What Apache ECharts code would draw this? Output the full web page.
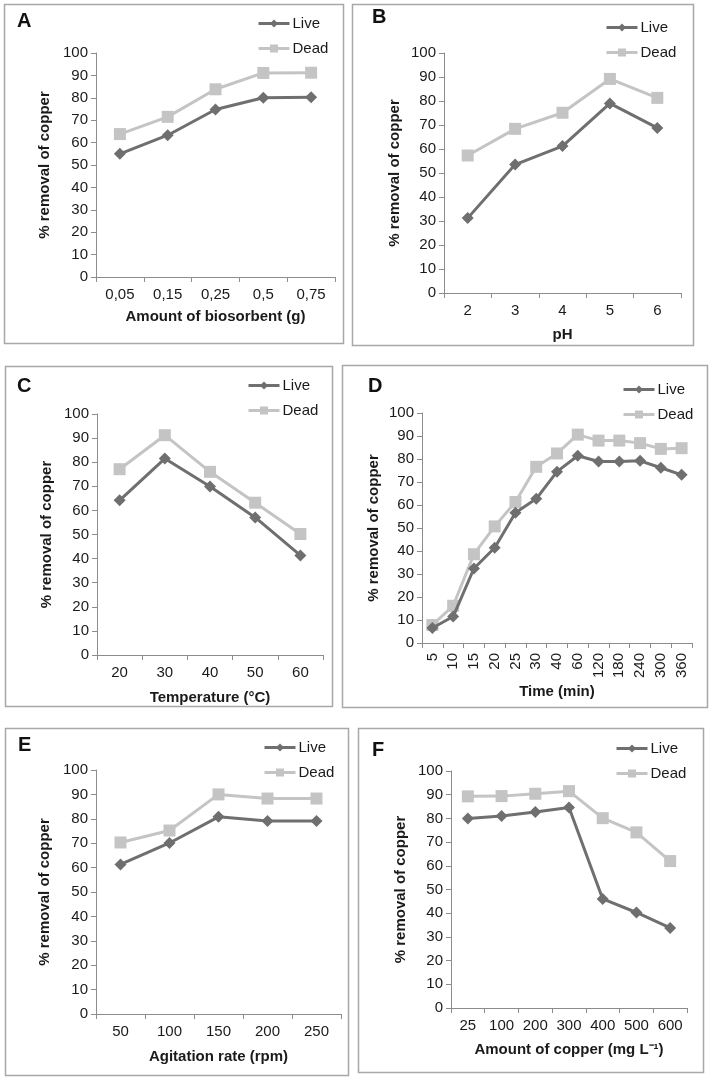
<!DOCTYPE html>
<html>
<head>
<meta charset="utf-8">
<script src="https://cdn.jsdelivr.net/npm/echarts@6/dist/echarts.min.js"></script>
<style>
html,body{margin:0;padding:0;background:#fff;}
#chart{width:712px;height:1078px;}
</style>
</head>
<body>
<div id="chart"></div>
<script>
// ---- data ----
const catsA = ['0,05','0,15','0,25','0,5','0,75'];
const liveA = [55, 63.3, 74.8, 80, 80.2];
const deadA = [63.8, 71.5, 83.8, 91.1, 91.2];

const catsB = ['2','3','4','5','6'];
const liveB = [31.2, 53.5, 61.2, 79, 68.8];
const deadB = [57.3, 68.4, 75.1, 89.2, 81.3];

const catsC = ['20','30','40','50','60'];
const liveC = [64.2, 81.5, 69.9, 57.1, 41.3];
const deadC = [77.1, 91.2, 76, 63.2, 50.2];

const catsD = ['5','10','15','20','25','30','40','60','120','180','240','300','360'];
const liveD = [6.5, 11.5, 32.4, 41.4, 56.6, 62.7, 74.5, 81.4, 78.9, 78.9, 79.2, 76.2, 73.1];
const deadD = [7.8, 16.2, 38.6, 50.7, 61.3, 76.6, 82.4, 90.6, 88, 88, 86.9, 84.4, 84.7];

const catsE = ['50','100','150','200','250'];
const liveE = [61.3, 70.1, 80.8, 79.1, 79.1];
const deadE = [70.3, 75.2, 90, 88.3, 88.3];

const catsF = ['25','100','200','300','400','500','600'];
const liveF = [80, 81, 82.7, 84.6, 46, 40.3, 33.8];
const deadF = [89.3, 89.4, 90.4, 91.5, 80.1, 74.1, 62];

const yTitle = '% removal of copper';
const xTitles = ['Amount of biosorbent (g)','pH','Temperature (°C)','Time (min)','Agitation rate (rpm)','Amount of copper (mg L\u207B\u00B9)'];
const letters = ['A','B','C','D','E','F'];

// ---- layout ----
const panels = [
  {cats:catsA, live:liveA, dead:deadA, grid:{left:96, top:53, width:239, height:224}, box:[4,4,339,339], letter:[17,11], legend:[257,16], yGap:44, xGap:32},
  {cats:catsB, live:liveB, dead:deadB, grid:{left:444, top:53, width:237, height:240}, box:[352,4,341,341], letter:[372,7], legend:[605,20], yGap:42, xGap:34},
  {cats:catsC, live:liveC, dead:deadC, grid:{left:97, top:414, width:226, height:241}, box:[5,366,327,340], letter:[17,376], legend:[247,378], yGap:43, xGap:35},
  {cats:catsD, live:liveD, dead:deadD, grid:{left:422, top:413, width:270, height:230}, box:[342,365,365,342], letter:[368,376], legend:[622,382], yGap:41, xGap:41, rot:90},
  {cats:catsE, live:liveE, dead:deadE, grid:{left:96, top:770, width:245, height:244}, box:[5,728,343,347], letter:[18,735], legend:[263,740], yGap:44, xGap:35},
  {cats:catsF, live:liveF, dead:deadF, grid:{left:451, top:771, width:236, height:237}, box:[358,728,345,344], letter:[372,740], legend:[615,741], yGap:43, xGap:34}
];

const LIVE = '#6f6f6f', DEAD = '#c4c4c4', AX = '#8c8c8c', TXT = '#1a1a1a';
const FONT = '"Liberation Sans", Arial, sans-serif';

const grids = [], xAxes = [], yAxes = [], series = [], legends = [], graphics = [];
panels.forEach((p, i) => {
  grids.push(Object.assign({containLabel:false}, p.grid));
  xAxes.push({
    type:'category', gridIndex:i, data:p.cats, boundaryGap:true,
    name:xTitles[i], nameLocation:'middle', nameGap:p.xGap,
    nameTextStyle:{fontFamily:FONT, fontWeight:'bold', fontSize:15, color:TXT},
    axisLine:{lineStyle:{color:AX, width:1}},
    axisTick:{show:true, length:5, alignWithLabel:false, lineStyle:{color:AX}},
    axisLabel:{fontFamily:FONT, fontSize:15, color:TXT, margin:10, rotate:p.rot||0, interval:0},
    splitLine:{show:false}
  });
  yAxes.push({
    type:'value', gridIndex:i, min:0, max:100, interval:10,
    name:yTitle, nameLocation:'middle', nameGap:p.yGap, nameRotate:90,
    nameTextStyle:{fontFamily:FONT, fontWeight:'bold', fontSize:15, color:TXT},
    axisLine:{show:true, lineStyle:{color:AX, width:1}},
    axisTick:{show:true, length:5, lineStyle:{color:AX}},
    axisLabel:{fontFamily:FONT, fontSize:15, color:TXT, margin:8},
    splitLine:{show:false}
  });
  series.push({
    name:'Live', type:'line', xAxisIndex:i, yAxisIndex:i, data:p.live,
    symbol:'diamond', symbolSize:12, z:3,
    lineStyle:{color:LIVE, width:3}, itemStyle:{color:LIVE}
  });
  series.push({
    name:'Dead', type:'line', xAxisIndex:i, yAxisIndex:i, data:p.dead,
    symbol:'rect', symbolSize:12, z:2,
    lineStyle:{color:DEAD, width:3}, itemStyle:{color:DEAD}
  });
  legends.push({
    left:p.legend[0], top:p.legend[1], orient:'vertical', padding:0,
    itemWidth:31, itemHeight:10, itemGap:10,
    selectedMode:false,
    lineStyle:{width:3},
    textStyle:{fontFamily:FONT, fontSize:15, color:TXT, padding:[0,0,0,-2]},
    data:['Live','Dead']
  });
  graphics.push({
    type:'rect', shape:{x:p.box[0]+0.5, y:p.box[1]+0.5, width:p.box[2], height:p.box[3]},
    style:{fill:null, stroke:'#a8a8a8', lineWidth:1.5}, silent:true
  });
  graphics.push({
    type:'text', left:p.letter[0], top:p.letter[1],
    style:{text:letters[i], font:'bold 20px ' + FONT, fill:'#111'}
  });
});

const chart = echarts.init(document.getElementById('chart'), null, {renderer:'canvas'});
chart.setOption({
  animation:false,
  backgroundColor:'#fff',
  grid:grids, xAxis:xAxes, yAxis:yAxes, series:series, legend:legends, graphic:graphics
});
</script>
</body>
</html>
